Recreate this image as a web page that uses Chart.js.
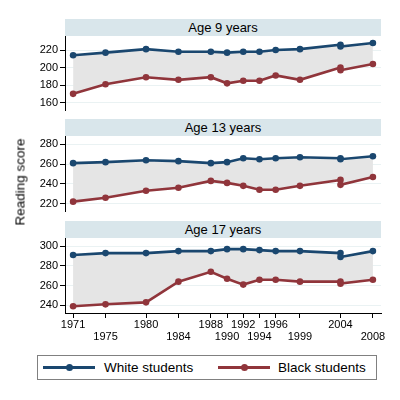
<!DOCTYPE html>
<html><head><meta charset="utf-8">
<script src="https://cdn.jsdelivr.net/npm/chart.js@4.4.0/dist/chart.umd.min.js"></script>
<style>
html,body{margin:0;padding:0;background:#fff;}
body{width:400px;height:400px;overflow:hidden;position:relative;font-family:"Liberation Sans",Arial,Helvetica,sans-serif;color:#000;}
canvas{position:absolute;left:0;}
.hdr{position:absolute;left:65px;width:316px;background:#d9e6eb;font-size:13px;text-align:center;}
#ytitle{position:absolute;left:20px;top:182px;transform:translate(-50%,-50%) rotate(-90deg);white-space:nowrap;font-size:13.5px;font-weight:normal;}
#legend{position:absolute;left:37px;top:355px;width:338px;height:23px;border:1px solid #808080;}
.ln{position:absolute;top:10px;width:52px;height:3px;}
.dt{position:absolute;top:8px;width:7px;height:7px;border-radius:50%;}
.tx{position:absolute;top:0;line-height:23px;font-size:13.5px;white-space:nowrap;}
</style>
</head>
<body>
<div class="hdr" style="top:18.5px;height:17.5px;line-height:17.5px;">Age 9 years</div>
<div class="hdr" style="top:119px;height:17px;line-height:17px;">Age 13 years</div>
<div class="hdr" style="top:220.5px;height:17px;line-height:17px;">Age 17 years</div>
<canvas id="c1" width="400" height="95" style="top:26px"></canvas>
<canvas id="c2" width="400" height="95" style="top:126px"></canvas>
<canvas id="c3" width="400" height="125" style="top:227.5px"></canvas>
<div id="ytitle">Reading score</div>
<div id="legend"></div>
<script>
// ---- data ----
const years = [1971, 1975, 1980, 1984, 1988, 1990, 1992, 1994, 1996, 1999, 2004, 2004, 2008];
const tickYears = [1971, 1975, 1980, 1984, 1988, 1990, 1992, 1994, 1996, 1999, 2004, 2008];
const seriesNames = ['White students', 'Black students'];
const panelTitles = ['Age 9 years', 'Age 13 years', 'Age 17 years'];

const white9  = [214, 217, 221, 218, 218, 217, 218, 218, 220, 221, 226, 224, 228];
const black9  = [170, 181, 189, 186, 189, 182, 185, 185, 191, 186, 200, 197, 204];
const white13 = [261, 262, 264, 263, 261, 262, 266, 265, 266, 267, 266, 265, 268];
const black13 = [222, 226, 233, 236, 243, 241, 238, 234, 234, 238, 244, 239, 247];
const white17 = [291, 293, 293, 295, 295, 297, 297, 296, 295, 295, 293, 289, 295];
const black17 = [239, 241, 243, 264, 274, 267, 261, 266, 266, 264, 264, 262, 266];

const yTicks9  = [160, 180, 200, 220];
const yTicks13 = [220, 240, 260, 280];
const yTicks17 = [240, 260, 280, 300];

// ---- style ----
const BLUE = '#1a476f';
const RED = '#90353b';
const FILL = '#e5e5e5';
const GRID = '#eaf2f3';
const FONT = '"Liberation Sans", Arial, Helvetica, sans-serif';

function pts(vals){ return years.map((x, i) => ({x: x, y: vals[i]})); }

function makeChart(id, w, b, yTicks, ymin, ymax, showX, padBottom){
  const xCfg = {
    type: 'linear', min: 1970, max: 2009, display: showX,
    afterBuildTicks: s => { s.ticks = tickYears.map(v => ({value: v})); },
    afterFit: s => { s.height = showX ? 40 : 0; },
    grid: {drawOnChartArea: false, drawTicks: true, tickLength: 5, tickColor: '#000', color: '#000'},
    border: {display: true, color: '#000', width: 1},
    ticks: {
      autoSkip: false, maxRotation: 0, padding: 1, color: '#000',
      font: {family: FONT, size: 11, lineHeight: 1.1},
      callback: function(v, i){ return i % 2 === 0 ? String(v) : ['', String(v)]; }
    }
  };
  return new Chart(document.getElementById(id), {
    type: 'line',
    data: {
      datasets: [
        {label: seriesNames[0], data: pts(w), borderColor: BLUE, backgroundColor: BLUE,
         pointBackgroundColor: BLUE, pointBorderColor: BLUE, pointRadius: 3.3, pointBorderWidth: 0,
         borderWidth: 2.6, fill: false, tension: 0},
        {label: seriesNames[1], data: pts(b), borderColor: RED, backgroundColor: FILL,
         pointBackgroundColor: RED, pointBorderColor: RED, pointRadius: 3.3, pointBorderWidth: 0,
         borderWidth: 2.6, fill: '-1', tension: 0}
      ]
    },
    options: {
      responsive: false, animation: false, events: [],
      layout: {padding: {top: 10, bottom: padBottom, left: 0, right: 19}},
      plugins: {legend: {display: false}, tooltip: {enabled: false}, filler: {propagate: false}},
      scales: {
        x: xCfg,
        y: {
          type: 'linear', min: ymin, max: ymax,
          afterBuildTicks: s => { s.ticks = yTicks.map(v => ({value: v})); },
          afterFit: s => { s.width = 65; },
          grid: {color: GRID, lineWidth: 1, tickColor: '#000', tickLength: 5, drawTicks: true},
          border: {display: true, color: '#000', width: 1},
          ticks: {padding: 2, color: '#000', font: {family: FONT, size: 11}}
        }
      }
    }
  });
}

makeChart('c1', white9, black9, yTicks9, 151, 236, false, 10.5);
makeChart('c2', white13, black13, yTicks13, 212.5, 288.5, false, 10);
makeChart('c3', white17, black17, yTicks17, 232.2, 308.3, true, 0);

// ---- legend ----
const lg = document.getElementById('legend');
const legendItems = [
  {name: seriesNames[0], color: BLUE, lineLeft: 5, textLeft: 66},
  {name: seriesNames[1], color: RED, lineLeft: 180, textLeft: 240}
];
legendItems.forEach(it => {
  const ln = document.createElement('div'); ln.className = 'ln';
  ln.style.left = it.lineLeft + 'px'; ln.style.background = it.color; lg.appendChild(ln);
  const dt = document.createElement('div'); dt.className = 'dt';
  dt.style.left = (it.lineLeft + 22.5) + 'px'; dt.style.background = it.color; lg.appendChild(dt);
  const tx = document.createElement('div'); tx.className = 'tx';
  tx.style.left = it.textLeft + 'px'; tx.textContent = it.name; lg.appendChild(tx);
});
</script>
</body></html>
